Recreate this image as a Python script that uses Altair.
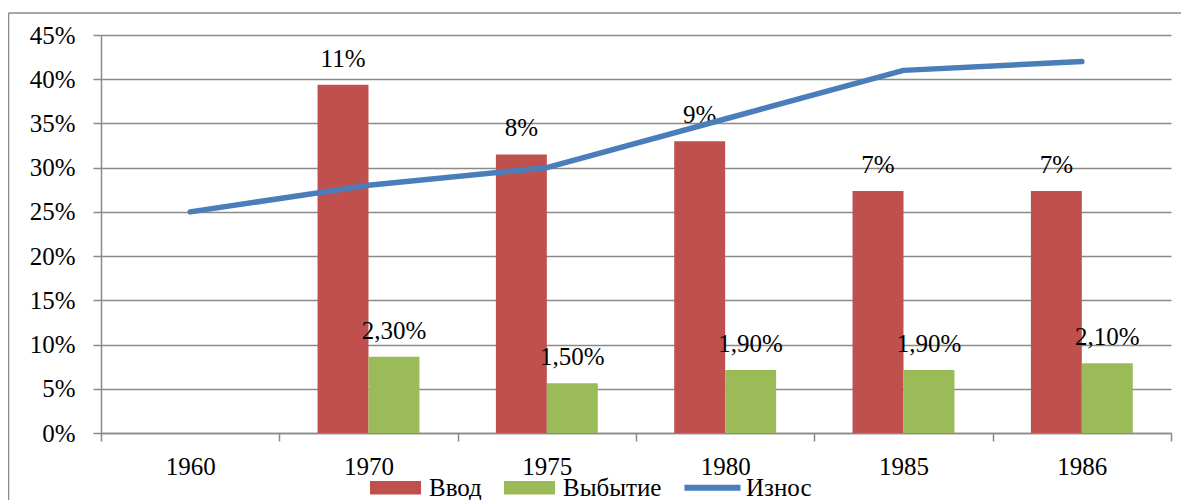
import altair as alt
import pandas as pd

# ---- data ----
years = ["1960", "1970", "1975", "1980", "1985", "1986"]
bar_years = ["1970", "1975", "1980", "1985", "1986"]
vvod = [10.5, 8.4, 8.8, 7.3, 7.3]            # plotted on a hidden 0-12 % secondary scale
vvod_labels = ["11%", "8%", "9%", "7%", "7%"]
vybytie = [2.3, 1.5, 1.9, 1.9, 2.1]
vybytie_labels = ["2,30%", "1,50%", "1,90%", "1,90%", "2,10%"]
iznos = [0.25, 0.28, 0.30, 0.355, 0.41, 0.42]
y_ticks = [0, 0.05, 0.10, 0.15, 0.20, 0.25, 0.30, 0.35, 0.40, 0.45]
series = ["Ввод", "Выбытие", "Износ"]
colors = ["#c0504d", "#9bbb59", "#4a7ebb"]

rows = []
for y, v, l in zip(bar_years, vvod, vvod_labels):
    rows.append({"year": y, "series": "Ввод", "value": v, "label": l})
for y, v, l in zip(bar_years, vybytie, vybytie_labels):
    rows.append({"year": y, "series": "Выбытие", "value": v, "label": l})
bars_df = pd.DataFrame(rows)
line_df = pd.DataFrame({"year": years, "series": ["Износ"] * len(years), "value": iznos})
legend_df = pd.DataFrame({"series": series})

FONT = "Liberation Serif"
GRAY = "#8a8a8a"
FS = 25

RECT_PATH = "M-1,-0.26L1,-0.26L1,0.26L-1,0.26Z"
LINE_PATH = "M-1.1,-0.12L1.1,-0.12L1.1,0.12L-1.1,0.12Z"


def make_legend():
    return alt.Legend(
        title=None,
        orient="none",
        legendX=269,
        legendY=427,
        direction="horizontal",
        columns=3,
        symbolSize=2601,
        symbolStrokeWidth=0,
        symbolOpacity=1,
        labelOffset=8,
        columnPadding=22,
        labelFont=FONT,
        labelFontSize=FS,
        labelColor="black",
        labelBaseline="middle",
    )


color_scale = alt.Scale(domain=series, range=colors)
color_nolegend = alt.Color("series:N", scale=color_scale, legend=None)

x_enc = alt.X(
    "year:N",
    sort=years,
    scale=alt.Scale(domain=years, paddingInner=0, paddingOuter=0),
    axis=alt.Axis(title=None, labelAngle=0, tickBand="extent", tickSize=8,
                  labelPadding=13, domainColor=GRAY, tickColor=GRAY,
                  domainWidth=1.5, tickWidth=1.5, grid=False),
)
x_off = alt.XOffset("series:N", scale=alt.Scale(domain=["Ввод", "Выбытие"],
                                                paddingInner=0, paddingOuter=0.75))
y_sec = alt.Y("value:Q", scale=alt.Scale(domain=[0, 12]), axis=None)

one = pd.DataFrame({"a": [0]})
frame_left = alt.Chart(one).mark_rule(color=GRAY, strokeWidth=1.5).encode(
    x=alt.value(-92.5), y=alt.value(-22), y2=alt.value(520))
frame_top = alt.Chart(one).mark_rule(color=GRAY, strokeWidth=1.5).encode(
    x=alt.value(-92.5), x2=alt.value(1100), y=alt.value(-22))

bars = alt.Chart(bars_df).mark_bar(stroke=None).encode(
    x=x_enc, xOffset=x_off, y=y_sec, color=color_nolegend
)

labels = alt.Chart(bars_df).mark_text(
    font=FONT, fontSize=FS, color="black", baseline="alphabetic", align="center", dy=-18
).encode(x=x_enc, xOffset=x_off, y=y_sec, text="label:N")

line = alt.Chart(line_df).mark_line(strokeWidth=5.5, strokeCap="round", strokeJoin="round").encode(
    x=x_enc,
    y=alt.Y("value:Q", scale=alt.Scale(domain=[0, 0.45]),
            axis=alt.Axis(orient="left", title=None, format=".0%", values=y_ticks,
                          grid=True, gridColor=GRAY, gridWidth=1.5, tickSize=8,
                          labelPadding=18, domainColor=GRAY, tickColor=GRAY,
                          domainWidth=1.5, tickWidth=1.5)),
    color=color_nolegend,
)

# invisible marks that only carry the legend (bar swatches + line swatch)
legend_layer = alt.Chart(legend_df).mark_point(filled=True, opacity=0, size=2601).encode(
    x=alt.value(0),
    y=alt.value(0),
    color=alt.Color("series:N", scale=color_scale, legend=make_legend()),
    shape=alt.Shape("series:N", scale=alt.Scale(domain=series,
                                                range=[RECT_PATH, RECT_PATH, LINE_PATH]),
                    legend=make_legend()),
)

chart = alt.layer(
    frame_left, frame_top, bars, labels, line, legend_layer
).resolve_scale(y="independent", color="shared").resolve_legend(
    color="independent", shape="independent"
).properties(
    width=1070,
    height=398,
    padding={"left": 93, "top": 27, "right": 10, "bottom": 80},
    autosize=alt.AutoSizeParams(type="none"),
).configure_view(stroke=None).configure_axis(
    labelFont=FONT, labelFontSize=FS, labelColor="black"
)

chart.save("out.html", embed_options={"renderer": "svg", "actions": False})
